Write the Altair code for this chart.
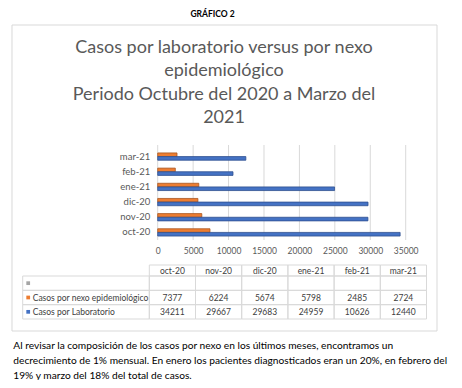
import altair as alt
import pandas as pd

months = ["oct-20", "nov-20", "dic-20", "ene-21", "feb-21", "mar-21"]
series = ["Casos por nexo epidemiológico", "Casos por Laboratorio"]
nexo = [7377, 6224, 5674, 5798, 2485, 2724]
lab = [34211, 29667, 29683, 24959, 10626, 12440]
x_ticks = [0, 5000, 10000, 15000, 20000, 25000, 30000, 35000]
title_lines = ["Casos por laboratorio versus por nexo", "epidemiológico",
               "Periodo Octubre del 2020 a Marzo del", "2021"]
para_lines = [
    "Al revisar la composición de los casos por nexo en los últimos meses, encontramos un",
    "decrecimiento de 1% mensual. En enero los pacientes diagnosticados eran un 20%, en febrero del",
    "19% y marzo del 18% del total de casos.",
]
rows = ["", series[0], series[1]]

ORANGE = "#ED7D31"
BLUE = "#4472C4"
GRID = "#D9D9D9"
FONT = "Lato"

df = pd.DataFrame({
    "month": months * 2,
    "serie": [series[0]] * 6 + [series[1]] * 6,
    "value": nexo + lab,
})
ticks_df = pd.DataFrame({"t": x_ticks})
months_df = pd.DataFrame({"month": months})
tab_rows = []
for i, m in enumerate(months):
    tab_rows.append({"month": m, "row": rows[0], "txt": ""})
    tab_rows.append({"month": m, "row": rows[1], "txt": str(nexo[i])})
    tab_rows.append({"month": m, "row": rows[2], "txt": str(lab[i])})
tab_df = pd.DataFrame(tab_rows)
rows_df = pd.DataFrame({"row": rows, "label": rows})
dummy = pd.DataFrame({"a": [0]})

W, H = 248, 91
xscale = alt.Scale(domain=[0, 35000], nice=False, zero=True)
tab_x = alt.Scale(domain=months, range=[-8.4, 268.8], paddingInner=0, paddingOuter=0)
row_y = alt.Scale(domain=rows, range=[127, 170], paddingInner=0, paddingOuter=0)

box = alt.Chart(dummy).mark_rect(fillOpacity=0, stroke=GRID, strokeWidth=1).encode(
    x=alt.value(-145.7), x2=alt.value(279.3), y=alt.value(-124), y2=alt.value(182))

grid = alt.Chart(ticks_df).mark_rule(color=GRID, strokeWidth=1).encode(
    x=alt.X("t:Q", scale=xscale, axis=None), y=alt.value(-4), y2=alt.value(H))

bars = alt.Chart(df).mark_bar(strokeWidth=0.8).encode(
    x=alt.X("value:Q", scale=xscale, title=None,
            axis=alt.Axis(values=x_ticks, format="d", grid=False, domain=False, ticks=False,
                          labelColor="#595959", labelFont=FONT, labelFontSize=8.5,
                          labelOverlap=False, labelFlush=False, labelPadding=6,
                          orient="bottom", zindex=2)),
    y=alt.Y("month:N", sort=months[::-1], title=None,
            scale=alt.Scale(paddingInner=0.52, paddingOuter=0.26),
            axis=alt.Axis(domain=False, ticks=False, labelColor="#595959", labelFont=FONT,
                          labelFontSize=9.5, labelPadding=8, orient="left", zindex=2)),
    yOffset=alt.YOffset("serie:N", sort=series, scale=alt.Scale(paddingInner=0, paddingOuter=0)),
    color=alt.Color("serie:N", scale=alt.Scale(domain=series, range=[ORANGE, BLUE]), legend=None),
    stroke=alt.Stroke("serie:N", scale=alt.Scale(domain=series, range=["#A9561E", "#2F4F8F"]), legend=None),
)

head_cells = alt.Chart(months_df).mark_rect(fillOpacity=0, stroke=GRID, strokeWidth=1).encode(
    x=alt.X("month:N", scale=tab_x, axis=None), y=alt.value(116), y2=alt.value(127))
head_text = alt.Chart(months_df).mark_text(font=FONT, fontSize=8.5, color="#404040").encode(
    x=alt.X("month:N", scale=tab_x, axis=None), y=alt.value(121.5), text="month:N")

body_cells = alt.Chart(tab_df).mark_rect(fillOpacity=0, stroke=GRID, strokeWidth=1).encode(
    x=alt.X("month:N", scale=tab_x, axis=None),
    y=alt.Y("row:N", scale=row_y, axis=None))
body_text = alt.Chart(tab_df).mark_text(font=FONT, fontSize=8.5, color="#404040").encode(
    x=alt.X("month:N", scale=tab_x, axis=None),
    y=alt.Y("row:N", scale=row_y, axis=None), text="txt:N")

first_cells = alt.Chart(rows_df).mark_rect(fillOpacity=0, stroke=GRID, strokeWidth=1).encode(
    x=alt.value(-135), x2=alt.value(-8.4), y=alt.Y("row:N", scale=row_y, axis=None))
keys = alt.Chart(rows_df).mark_square(size=14, opacity=1).encode(
    x=alt.value(-129.5), y=alt.Y("row:N", scale=row_y, axis=None),
    color=alt.Color("row:N", scale=alt.Scale(domain=rows, range=["#A5A5A5", ORANGE, BLUE]), legend=None))
row_text = alt.Chart(rows_df).mark_text(font=FONT, fontSize=8.5, color="#404040", align="left").encode(
    x=alt.value(-125), y=alt.Y("row:N", scale=row_y, axis=None), text="label:N")

heading = alt.Chart(dummy).mark_text(font=FONT, fontSize=8.5, fontWeight="bold", color="black",
                                     baseline="alphabetic").encode(
    x=alt.value(54.8), y=alt.value(-132), text=alt.value("GRÁFICO 2"))

title = alt.Chart(dummy).mark_text(font=FONT, fontSize=18, color="#595959", lineBreak="\n",
                                   lineHeight=23.3, baseline="alphabetic").encode(
    x=alt.value(66.3), y=alt.value(-96), text=alt.value("\n".join(title_lines)))

para = alt.Chart(dummy).mark_text(font=FONT, fontSize=10.2, color="black", lineBreak="\n",
                                  lineHeight=15, align="left", baseline="alphabetic").encode(
    x=alt.value(-144.4), y=alt.value(200.3), text=alt.value("\n".join(para_lines)))

chart = alt.layer(
    box, grid, bars, head_cells, head_text, body_cells, body_text,
    first_cells, keys, row_text, heading, title, para
).resolve_scale(
    x="independent", y="independent", color="independent"
).properties(
    width=W, height=H,
    autosize=alt.AutoSizeParams(type="none"),
    padding={"left": 149.7, "top": 141, "right": 48.3, "bottom": 140},
).configure_view(strokeWidth=0)

chart.save("out.html", embed_options={"renderer": "svg", "actions": False})
